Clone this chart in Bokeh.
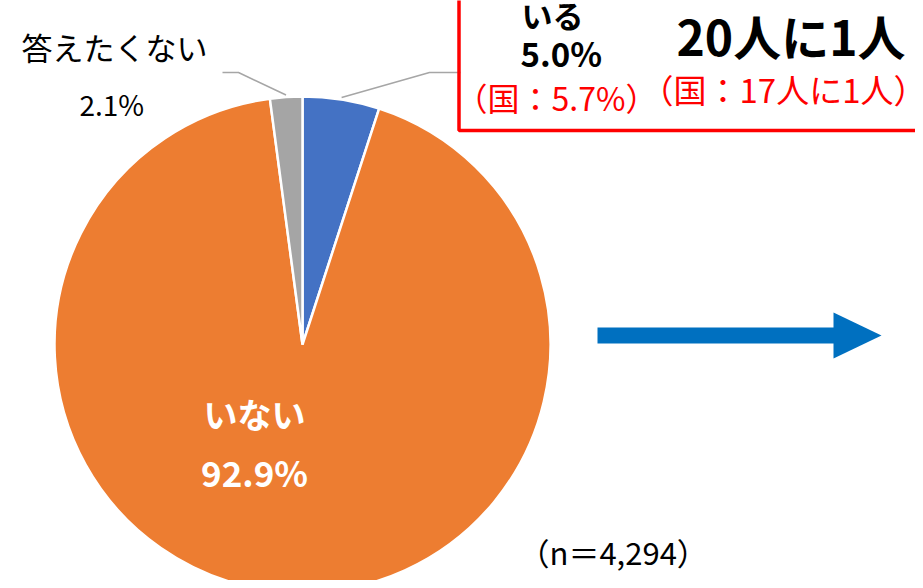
import numpy as np
from bokeh.plotting import figure
from bokeh.models import Range1d
from bokeh.core.properties import value
from bokeh.embed import file_html
from bokeh.resources import INLINE

# ---- data ----
categories = ["いる", "いない", "答えたくない"]
shares = [5.0, 92.9, 2.1]
colors = ["#4472C4", "#ED7D31", "#A5A5A5"]
national_share = "（国：5.7%）"
ratio_label = "20人に1人"
national_ratio = "（国：17人に1人）"
n_label = "（n＝4,294）"

FONT = value("Noto Sans CJK JP")
W, H = 915, 580  # y_data = H - pixel_y

p = figure(width=W, height=H, output_backend="svg", toolbar_location=None,
           x_range=Range1d(0, W), y_range=Range1d(0, H), min_border=0)
p.axis.visible = False
p.grid.visible = False
p.outline_line_color = None
p.background_fill_color = "white"

# ---- pie (clockwise from 12 o'clock) ----
cx, cy, r = 302, H - 344, 248
fr = np.array(shares) / sum(shares)
cum = np.concatenate([[0], np.cumsum(fr)])
start_clock = np.pi / 2 - cum[1:] * 2 * np.pi
end_clock = np.pi / 2 - cum[:-1] * 2 * np.pi
p.wedge(x=cx, y=cy, radius=r, start_angle=start_clock, end_angle=end_clock,
        fill_color=colors, line_color="white", line_width=2.5)

mid = (start_clock + end_clock) / 2

# leader lines
lc = "#A6A6A6"
sx, sy = cx + (r + 2) * np.cos(mid[0]), cy + (r + 2) * np.sin(mid[0])
p.line([sx, 429, 460], [sy, H - 72, H - 72], line_color=lc, line_width=1.5)
sx, sy = cx + (r + 2) * np.cos(mid[2]), cy + (r + 2) * np.sin(mid[2])
p.line([sx, 238, 222], [sy, H - 72, H - 72], line_color=lc, line_width=1.5)

# red box
p.quad(left=458.5, right=960, bottom=H - 130, top=H + 20,
       fill_color="white", fill_alpha=0, line_color="#FF0000", line_width=3.5)

# arrow
p.quad(left=597, right=834, bottom=H - 343, top=H - 327,
       fill_color="#0070C0", line_color=None)
p.patch([833, 833, 881], [H - 312, H - 358, H - 335],
        fill_color="#0070C0", line_color=None)

def txt(x, py, s, size, color="black", bold=False, align="left"):
    p.text(x=[x], y=[H - py], text=[s], text_font=FONT, text_font_size=f"{size}px",
           text_color=color, text_font_style="bold" if bold else "normal",
           text_align=align, text_baseline="middle")

txt(21, 46, categories[2], 31)
txt(79, 103, f"{shares[2]:.1f}%", 28)
txt(521, 14, categories[0], 31, bold=True)
txt(520, 52, f"{shares[0]:.1f}%", 33, bold=True)
txt(455, 96, national_share, 32, color="#FF0000")
txt(676, 34, ratio_label, 48, bold=True)
txt(640, 88, national_ratio, 33, color="#FF0000")
txt(254, 413, categories[1], 34, color="white", bold=True, align="center")
txt(254, 471, f"{shares[1]:.1f}%", 35, color="white", bold=True, align="center")
txt(518, 551, n_label, 31)

open("out.html", "w").write(file_html(p, INLINE))
